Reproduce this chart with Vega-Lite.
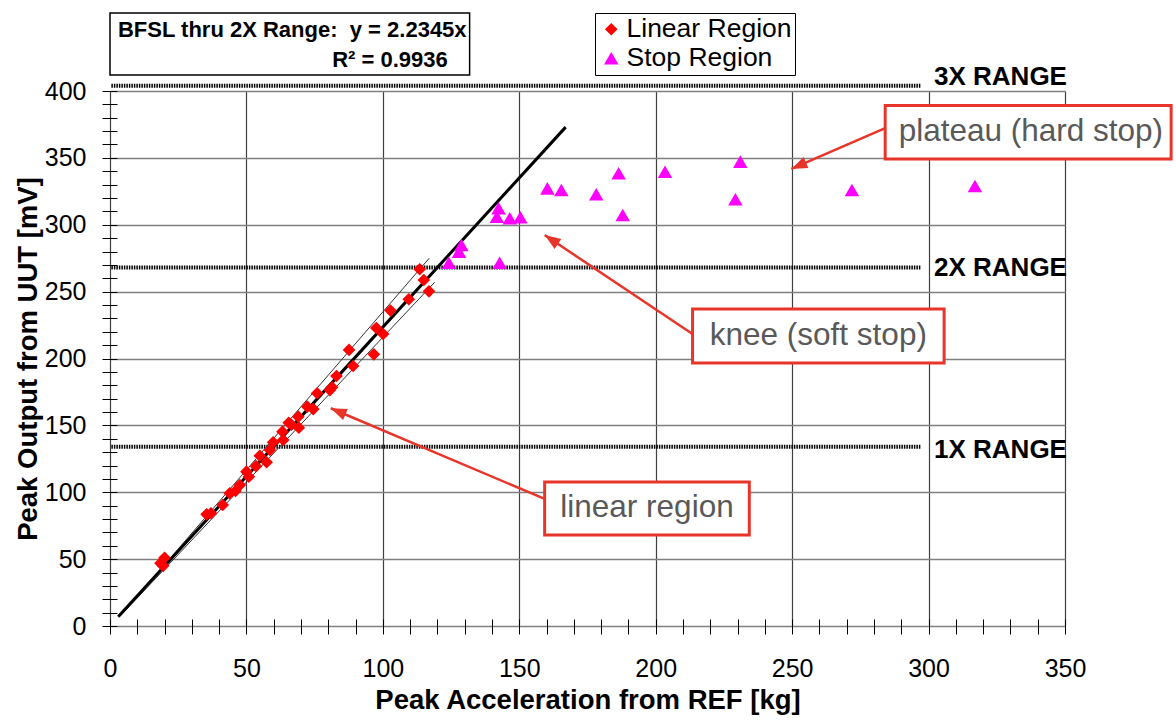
{
  "$schema": "https://vega.github.io/schema/vega-lite/v6.json",
  "width": 955,
  "height": 535,
  "autosize": {"type": "none"},
  "padding": {"left": 110, "top": 91, "right": 111, "bottom": 95},
  "background": "white",
  "config": {"font": "Liberation Sans", "view": {"stroke": null}},
  "datasets": {
    "points": [
      {"x": 18.5, "y": 47, "region": "Linear Region"},
      {"x": 20, "y": 51, "region": "Linear Region"},
      {"x": 19.5, "y": 45, "region": "Linear Region"},
      {"x": 35.4, "y": 83.5, "region": "Linear Region"},
      {"x": 37, "y": 84.3, "region": "Linear Region"},
      {"x": 41.3, "y": 90.5, "region": "Linear Region"},
      {"x": 43.9, "y": 99.2, "region": "Linear Region"},
      {"x": 46, "y": 101, "region": "Linear Region"},
      {"x": 47.6, "y": 105.4, "region": "Linear Region"},
      {"x": 50, "y": 115.4, "region": "Linear Region"},
      {"x": 50.9, "y": 111.6, "region": "Linear Region"},
      {"x": 53.5, "y": 119.5, "region": "Linear Region"},
      {"x": 54.9, "y": 127.3, "region": "Linear Region"},
      {"x": 57.4, "y": 122.4, "region": "Linear Region"},
      {"x": 58.6, "y": 131.6, "region": "Linear Region"},
      {"x": 59.8, "y": 137.3, "region": "Linear Region"},
      {"x": 63.5, "y": 139.1, "region": "Linear Region"},
      {"x": 63.2, "y": 145.3, "region": "Linear Region"},
      {"x": 65.5, "y": 152, "region": "Linear Region"},
      {"x": 66.5, "y": 150.5, "region": "Linear Region"},
      {"x": 69.2, "y": 148.3, "region": "Linear Region"},
      {"x": 69, "y": 156.5, "region": "Linear Region"},
      {"x": 72.3, "y": 164, "region": "Linear Region"},
      {"x": 74.5, "y": 162.2, "region": "Linear Region"},
      {"x": 75.9, "y": 174, "region": "Linear Region"},
      {"x": 80.6, "y": 176.4, "region": "Linear Region"},
      {"x": 81.4, "y": 178.5, "region": "Linear Region"},
      {"x": 83, "y": 186.9, "region": "Linear Region"},
      {"x": 89.1, "y": 194.4, "region": "Linear Region"},
      {"x": 87.6, "y": 206.4, "region": "Linear Region"},
      {"x": 96.7, "y": 203.1, "region": "Linear Region"},
      {"x": 97.6, "y": 222.8, "region": "Linear Region"},
      {"x": 100.1, "y": 218.3, "region": "Linear Region"},
      {"x": 102.8, "y": 235.8, "region": "Linear Region"},
      {"x": 109.5, "y": 244.3, "region": "Linear Region"},
      {"x": 113.5, "y": 266.7, "region": "Linear Region"},
      {"x": 115, "y": 258.7, "region": "Linear Region"},
      {"x": 116.9, "y": 250.2, "region": "Linear Region"},
      {"x": 124.2, "y": 271.6, "region": "Stop Region"},
      {"x": 127.9, "y": 279.9, "region": "Stop Region"},
      {"x": 128.8, "y": 284.9, "region": "Stop Region"},
      {"x": 142.8, "y": 271.6, "region": "Stop Region"},
      {"x": 141.8, "y": 306, "region": "Stop Region"},
      {"x": 142.4, "y": 312.3, "region": "Stop Region"},
      {"x": 146.5, "y": 304.8, "region": "Stop Region"},
      {"x": 150.4, "y": 305.6, "region": "Stop Region"},
      {"x": 160.3, "y": 327.2, "region": "Stop Region"},
      {"x": 165.4, "y": 326, "region": "Stop Region"},
      {"x": 178.2, "y": 322.8, "region": "Stop Region"},
      {"x": 186.4, "y": 338.5, "region": "Stop Region"},
      {"x": 187.9, "y": 307.3, "region": "Stop Region"},
      {"x": 203.4, "y": 339.7, "region": "Stop Region"},
      {"x": 229.2, "y": 319, "region": "Stop Region"},
      {"x": 231, "y": 347.2, "region": "Stop Region"},
      {"x": 271.9, "y": 326, "region": "Stop Region"},
      {"x": 317, "y": 329, "region": "Stop Region"}
    ],
    "fits": [
      {"x": 3, "y": 7, "line": "fit"},
      {"x": 85, "y": 190, "line": "fit"},
      {"x": 167, "y": 373, "line": "fit"},
      {"x": 4, "y": 8, "line": "upper"},
      {"x": 117, "y": 275, "line": "upper"},
      {"x": 4, "y": 8, "line": "lower"},
      {"x": 119, "y": 257, "line": "lower"}
    ],
    "ranges": [
      {"label": "1X RANGE", "y": 134, "x0": 0.5, "x1": 297, "labelX": 302, "labelY": 131.6},
      {"label": "2X RANGE", "y": 268, "x0": 0.5, "x1": 297, "labelX": 302, "labelY": 267.3},
      {"label": "3X RANGE", "y": 404, "x0": 0.5, "x1": 297, "labelX": 302, "labelY": 410.7}
    ],
    "notes": [
      {"label": "plateau (hard stop)", "bx1": 284.1, "bx2": 388.9, "by1": 389.2, "by2": 349.2, "tx": 337.5, "ty": 369.3, "sx": 284.1, "sy": 372.3, "ex": 249.7, "ey": 341.7, "angle": 246.4},
      {"label": "knee (soft stop)", "bx1": 213.5, "bx2": 305.7, "by1": 237, "by2": 196.6, "tx": 259.6, "ty": 216.8, "sx": 213.5, "sy": 218.3, "ex": 159.3, "ey": 292.3, "angle": 303.8},
      {"label": "linear region", "bx1": 159.3, "bx2": 234.3, "by1": 107.7, "by2": 68, "tx": 196.8, "ty": 87.9, "sx": 159.3, "sy": 95, "ex": 80.9, "ey": 162.8, "angle": 293}
    ],
    "fitbox": [
      {"line1": "BFSL thru 2X Range:\u00a0 y = 2.2345x", "line2": "R² = 0.9936", "x1": 0, "x2": 131.8, "y1": 458.3, "y2": 412, "l1x": 2.9, "l1y": 445.6, "l2x": 123.8, "l2y": 423.2}
    ]
  },
  "resolve": {"axis": {"x": "independent", "y": "independent"}},
  "layer": [
    {
      "mark": {"type": "rect", "fill": null, "stroke": "#a6a6a6", "strokeWidth": 1.5},
      "encoding": {
        "x": {"datum": -37.3, "type": "quantitative", "scale": {"domain": [0, 350], "nice": false, "zero": false}, "axis": null},
        "x2": {"datum": 400},
        "y": {"datum": 462, "type": "quantitative", "scale": {"domain": [0, 400], "nice": false, "zero": false}, "axis": null},
        "y2": {"datum": -90}
      }
    },
    {
      "mark": {"type": "rect", "fill": null, "stroke": "black", "strokeWidth": 1.5},
      "encoding": {
        "x": {"datum": 0, "type": "quantitative", "axis": null},
        "x2": {"datum": 350},
        "y": {"datum": 400, "type": "quantitative", "axis": null},
        "y2": {"datum": 0}
      }
    },
    {
      "data": {"name": "ranges"},
      "mark": {"type": "rule", "strokeWidth": 4, "strokeDash": [1.5, 1], "color": "black"},
      "encoding": {
        "x": {"field": "x0", "type": "quantitative", "axis": null},
        "x2": {"field": "x1"},
        "y": {"field": "y", "type": "quantitative", "axis": null}
      }
    },
    {
      "data": {"name": "ranges"},
      "mark": {"type": "text", "align": "left", "baseline": "middle", "fontSize": 26, "fontWeight": "bold", "color": "black"},
      "encoding": {
        "x": {"field": "labelX", "type": "quantitative", "axis": null},
        "y": {"field": "labelY", "type": "quantitative", "axis": null},
        "text": {"field": "label"}
      }
    },
    {
      "data": {"name": "fits"},
      "transform": [{"filter": "datum.line !== 'fit'"}],
      "mark": {"type": "line", "color": "#333333", "strokeWidth": 1},
      "encoding": {
        "x": {"field": "x", "type": "quantitative", "axis": null},
        "y": {"field": "y", "type": "quantitative", "axis": null},
        "detail": {"field": "line"}
      }
    },
    {
      "data": {"name": "fits"},
      "transform": [{"filter": "datum.line === 'fit'"}],
      "mark": {"type": "line", "color": "black", "strokeWidth": 3},
      "encoding": {
        "x": {"field": "x", "type": "quantitative", "axis": null},
        "y": {"field": "y", "type": "quantitative", "axis": null}
      }
    },
    {
      "data": {"name": "points"},
      "mark": {"type": "point", "filled": true, "opacity": 1},
      "encoding": {
        "x": {"field": "x", "type": "quantitative", "axis": {
          "orient": "bottom", "offset": -7,
          "values": [0,10,20,30,40,50,60,70,80,90,100,110,120,130,140,150,160,170,180,190,200,210,220,230,240,250,260,270,280,290,300,310,320,330,340,350],
          "labelExpr": "datum.value % 50 === 0 ? datum.label : ''",
          "labelOverlap": false, "labelFlush": false,
          "labelFontSize": 25, "labelColor": "black", "labelPadding": 22,
          "tickSize": 15, "tickColor": "black", "tickWidth": 1,
          "domain": false,
          "grid": true, "gridColor": "#404040", "gridWidth": 1.2,
          "gridOpacity": {"condition": {"test": "datum.value % 50 === 0", "value": 1}, "value": 0},
          "title": "Peak Acceleration from REF [kg]", "titleFontSize": 27.5, "titleFontWeight": "bold", "titleColor": "black", "titlePadding": 5
        }},
        "y": {"field": "y", "type": "quantitative", "axis": {
          "orient": "left", "offset": -7,
          "values": [0,10,20,30,40,50,60,70,80,90,100,110,120,130,140,150,160,170,180,190,200,210,220,230,240,250,260,270,280,290,300,310,320,330,340,350,360,370,380,390,400],
          "labelExpr": "datum.value % 50 === 0 ? datum.label : ''",
          "labelOverlap": false, "labelFlush": false,
          "labelFontSize": 25, "labelColor": "black", "labelPadding": 16,
          "tickSize": 15, "tickColor": "black", "tickWidth": 1,
          "domain": false,
          "grid": true, "gridColor": "#808080", "gridWidth": 1.5,
          "gridOpacity": {"condition": {"test": "datum.value % 50 === 0", "value": 1}, "value": 0},
          "title": "Peak Output from UUT [mV]", "titleFontSize": 27.5, "titleFontWeight": "bold", "titleColor": "black", "titlePadding": 2
        }},
        "size": {"field": "region", "type": "ordinal", "scale": {"domain": ["Linear Region", "Stop Region"], "range": [160, 210]}, "legend": null},
        "color": {"field": "region", "type": "nominal", "scale": {"domain": ["Linear Region", "Stop Region"], "range": ["#ff0000", "#ff00ff"]},
          "legend": {"orient": "none", "legendX": 485, "legendY": -78, "title": null, "strokeColor": "black", "fillColor": "white", "padding": 3, "labelFontSize": 26.5, "labelColor": "black", "labelLimit": 400, "symbolSize": 90, "rowPadding": 2, "labelOffset": 2}},
        "shape": {"field": "region", "type": "nominal", "scale": {"domain": ["Linear Region", "Stop Region"], "range": ["diamond", "triangle-up"]},
          "legend": {"orient": "none", "legendX": 485, "legendY": -78, "title": null, "strokeColor": "black", "fillColor": "white", "padding": 3, "labelFontSize": 26.5, "labelColor": "black", "labelLimit": 400, "symbolSize": 90, "rowPadding": 2, "labelOffset": 2}}
      }
    },
    {
      "data": {"name": "notes"},
      "mark": {"type": "rule", "color": "#e8352a", "strokeWidth": 2.5},
      "encoding": {
        "x": {"field": "sx", "type": "quantitative", "axis": null},
        "y": {"field": "sy", "type": "quantitative", "axis": null},
        "x2": {"field": "ex"},
        "y2": {"field": "ey"}
      }
    },
    {
      "data": {"name": "notes"},
      "mark": {"type": "point", "shape": "M0,0L-0.6,1.6L0.6,1.6Z", "filled": true, "color": "#e8352a", "opacity": 1, "size": 400},
      "encoding": {
        "x": {"field": "ex", "type": "quantitative", "axis": null},
        "y": {"field": "ey", "type": "quantitative", "axis": null},
        "angle": {"field": "angle", "type": "quantitative", "scale": null}
      }
    },
    {
      "data": {"name": "notes"},
      "mark": {"type": "rect", "fill": "white", "stroke": "#e8352a", "strokeWidth": 3},
      "encoding": {
        "x": {"field": "bx1", "type": "quantitative", "axis": null},
        "x2": {"field": "bx2"},
        "y": {"field": "by1", "type": "quantitative", "axis": null},
        "y2": {"field": "by2"}
      }
    },
    {
      "data": {"name": "notes"},
      "mark": {"type": "text", "align": "center", "baseline": "middle", "fontSize": 31.5, "color": "#595959"},
      "encoding": {
        "x": {"field": "tx", "type": "quantitative", "axis": null},
        "y": {"field": "ty", "type": "quantitative", "axis": null},
        "text": {"field": "label"}
      }
    },
    {
      "data": {"name": "fitbox"},
      "mark": {"type": "rect", "fill": "white", "stroke": "black", "strokeWidth": 1.5},
      "encoding": {
        "x": {"field": "x1", "type": "quantitative", "axis": null},
        "x2": {"field": "x2"},
        "y": {"field": "y1", "type": "quantitative", "axis": null},
        "y2": {"field": "y2"}
      }
    },
    {
      "data": {"name": "fitbox"},
      "mark": {"type": "text", "align": "left", "baseline": "middle", "fontSize": 22, "fontWeight": "bold", "color": "black"},
      "encoding": {
        "x": {"field": "l1x", "type": "quantitative", "axis": null},
        "y": {"field": "l1y", "type": "quantitative", "axis": null},
        "text": {"field": "line1"}
      }
    },
    {
      "data": {"name": "fitbox"},
      "mark": {"type": "text", "align": "right", "baseline": "middle", "fontSize": 22, "fontWeight": "bold", "color": "black"},
      "encoding": {
        "x": {"field": "l2x", "type": "quantitative", "axis": null},
        "y": {"field": "l2y", "type": "quantitative", "axis": null},
        "text": {"field": "line2"}
      }
    }
  ]
}
